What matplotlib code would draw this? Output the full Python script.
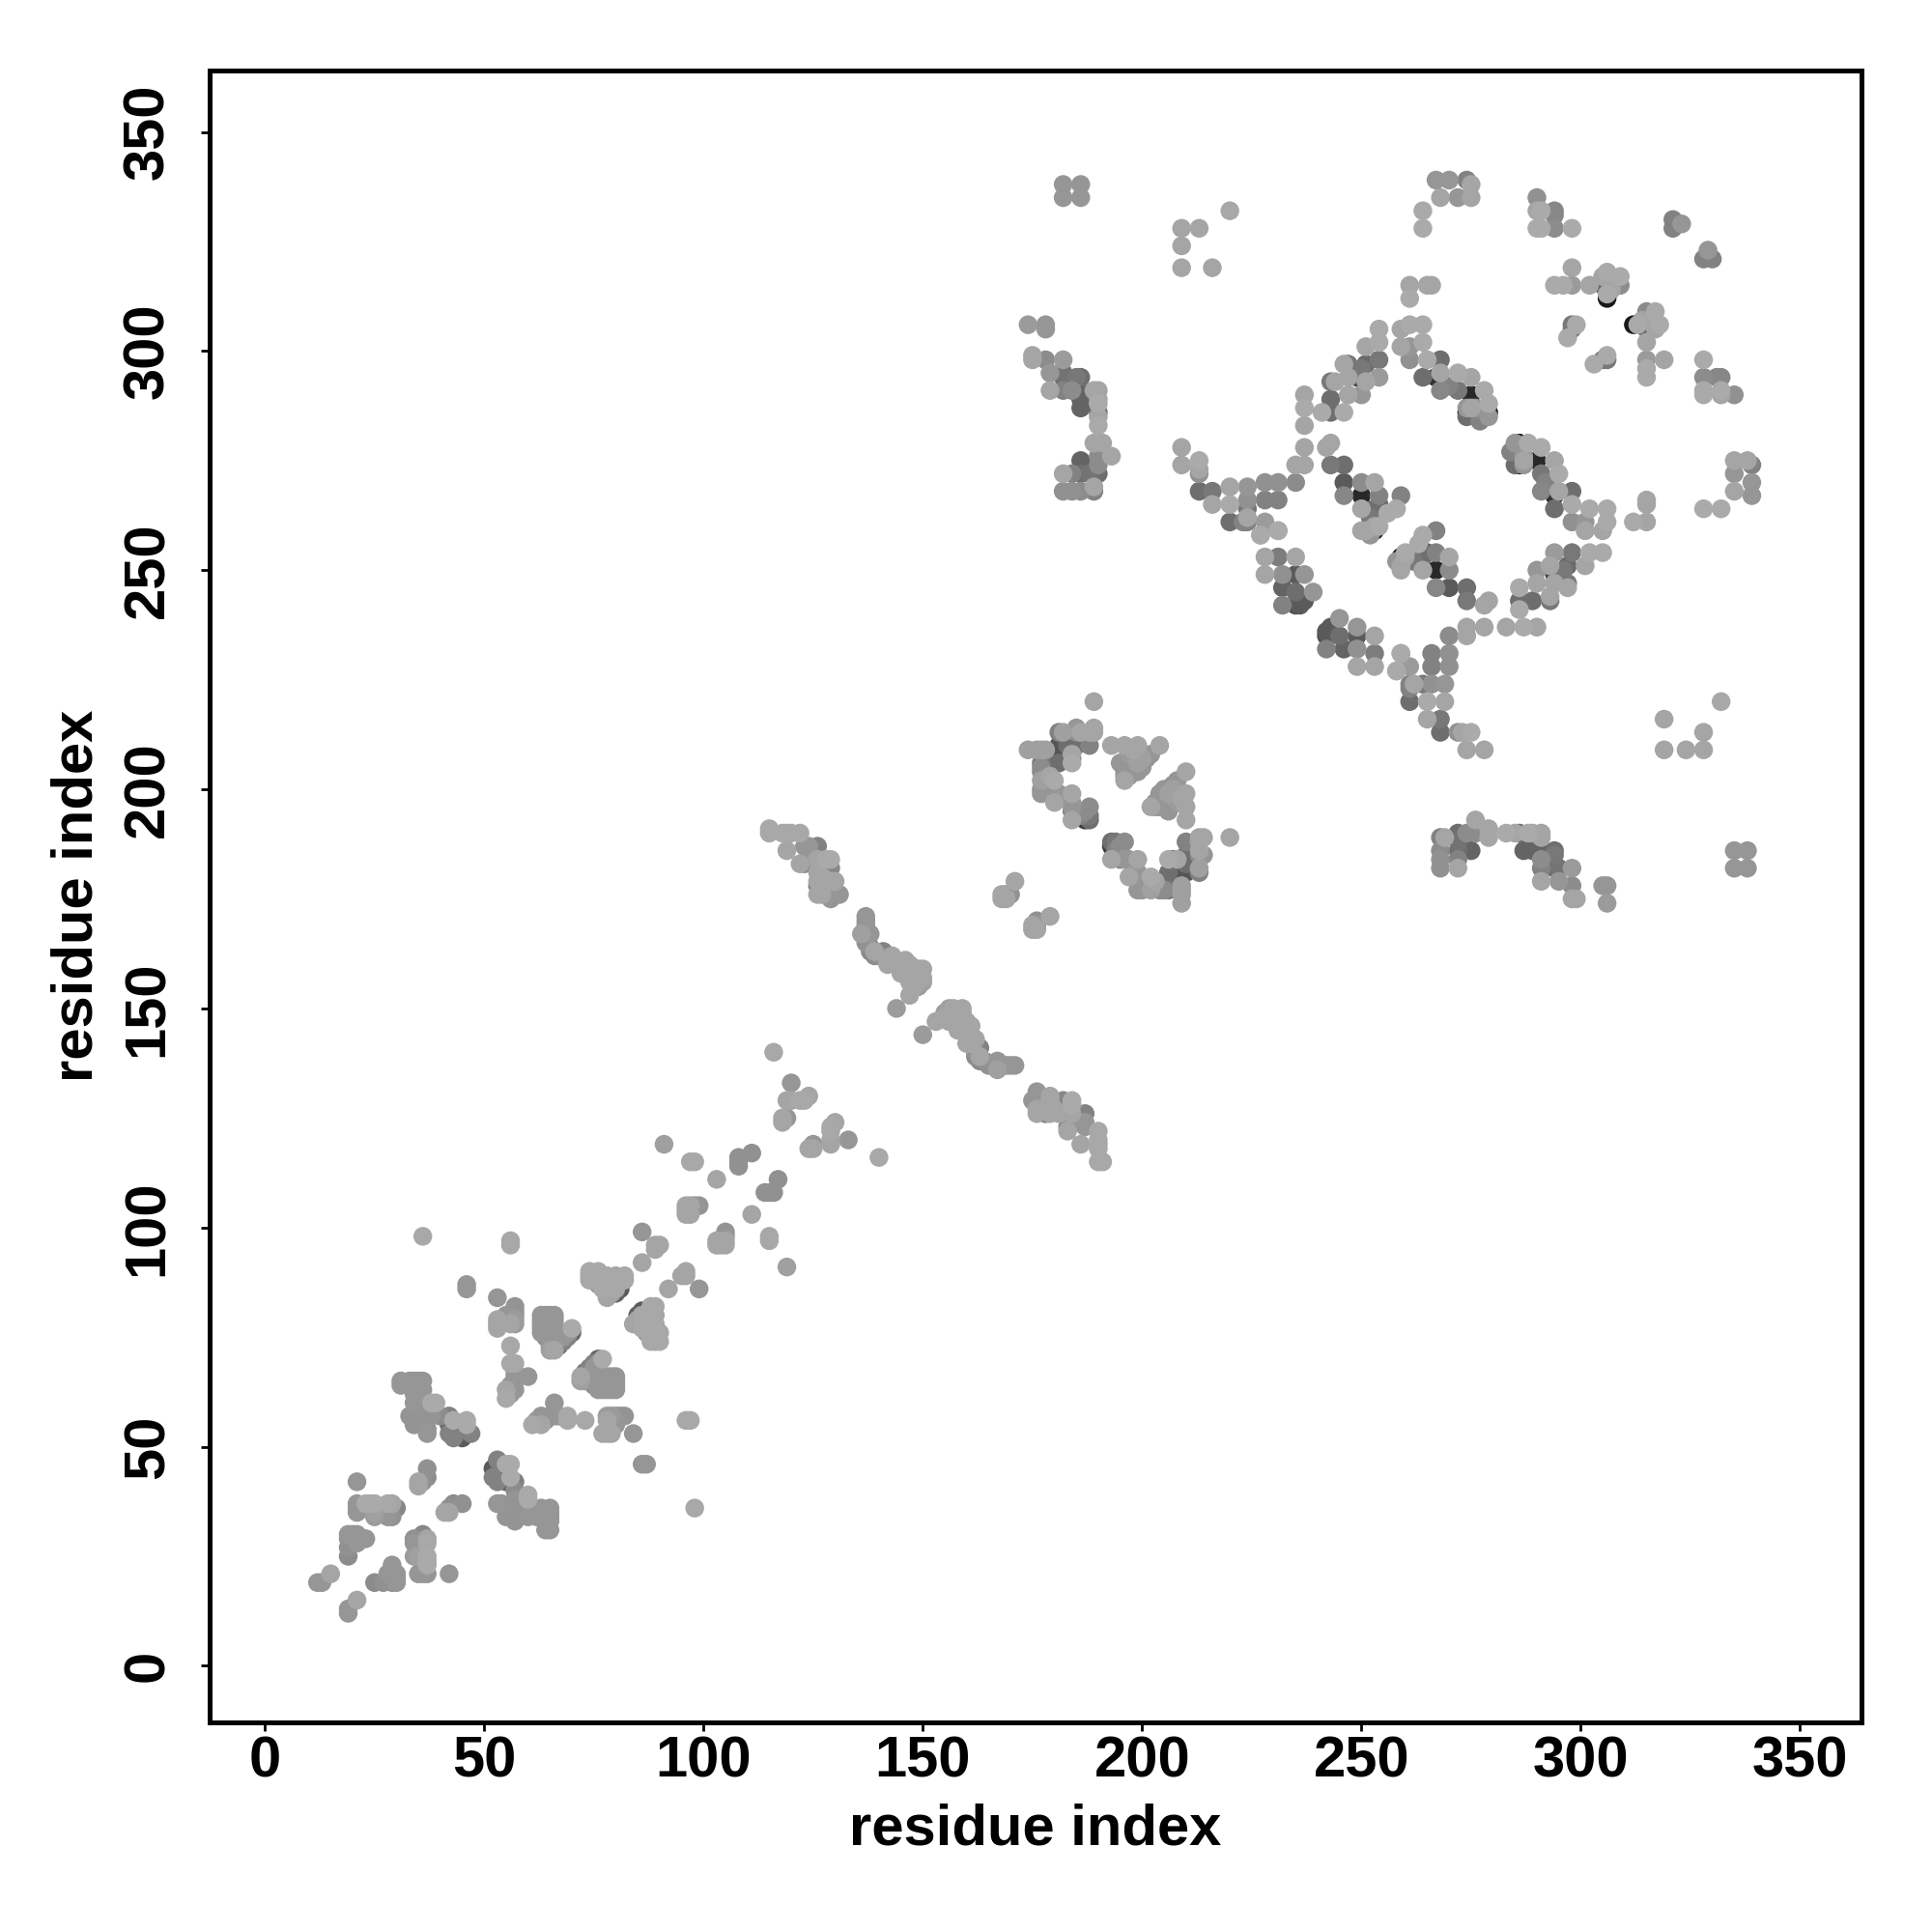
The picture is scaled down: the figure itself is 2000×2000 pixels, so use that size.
import numpy as np
import matplotlib
matplotlib.use("Agg")
import matplotlib.pyplot as plt

plt.rcParams['font.family'] = ['Liberation Sans', 'DejaVu Sans']

# contacts (residue i, residue j, grey level), i < j, the map is symmetric
start_a = [(12,19,150),(13,19,150),(15,21,165),(19,25,140),(19,27,145),(19,29,145),(19,30,150),(20,30,148),
           (21,30,150),(21,28,150),(23,29,150),(21,35,150),(21,36,150),(21,37,150),(22,36,148),(23,37,170),
           (24,37,170),(25,37,170),(25,35,160),(25,34,155),(27,36,150),(28,37,168),(29,37,165),(29,34,145),
           (30,36,135),(28,34,150),(21,42,150),(37,45,145),(37,43,140),(36,42,145),(35,42,165),(35,41,165)]
start_b = [(31,64,150),(31,65,150),(33,65,150),(34,65,150),(35,65,150),(36,65,150),(33,64,150),(36,63,150),
           (34,62,150),(34,60,150),(35,61,150),(39,60,170),(38,60,170),(33,57,148),(34,57,148),(36,57,148),
           (38,57,148),(34,55,148),(36,55,148),(37,54,148),(37,53,150),(40,57,140),(42,57,130),(42,55,100),
           (42,53,130),(43,56,170),(44,53,100),(45,53,90),(46,56,170),(46,55,170),(47,53,130),(45,52,90),
           (43,52,130)]
start_c = [(53,84,150),(53,79,165),(53,78,165),(53,77,165),(55,80,150),(56,78,165),(57,82,148),(57,81,148),
           (57,80,148),(57,79,155),(57,78,155),(56,80,150),(56,73,168),(56,69,168),(57,69,168),(60,66,150),
           (57,67,150),(57,66,148),(57,65,148),(56,64,148),(55,63,165),(55,61,168),(56,62,150),(57,63,150),
           (56,97,168),(56,96,168),(46,87,150),(46,86,150),(36,98,168)]
start_d = [(63,80,150),(64,80,150),(65,80,150),(66,80,150),(63,79,150),(64,79,150),(65,79,150),(66,79,150),
           (63,78,150),(64,78,150),(65,78,150),(66,78,150),(63,77,150),(64,77,150),(65,77,150),(66,77,150),
           (63,76,150),(64,76,150),(65,76,150),(66,76,150),(66,75,130),(65,75,140),(64,75,140),(67,74,125),
           (68,74,130),(66,73,120),(66,72,165),(67,73,110),(68,75,150),(69,75,130),(70,76,100),(70,77,170),
           (69,76,150),(65,73,150),(67,75,150),(65,72,160)]
start_e = [(74,90,168),(76,90,168),(74,89,168),(74,88,168),(75,88,168),(78,89,168),(80,89,165),(82,89,168),
           (77,86,168),(79,86,165),(76,87,150),(77,87,150),(80,85,100),(80,86,168),(80,87,168),(78,84,165),
           (79,85,165),(78,85,165),(82,88,168),(81,86,90)]
start_f = [(86,99,150),(89,96,165),(90,96,165),(89,95,165),(86,92,165),(91,119,160),(97,115,168),(98,115,168),
           (96,105,165),(96,104,165),(96,103,165),(97,105,165),(97,103,165),(99,105,148),(98,105,150),
           (103,111,165),(108,116,145),(108,115,145),(108,114,145),(111,117,145),(116,140,168),(120,133,150),
           (119,129,165),(120,129,165),(122,129,168),(123,129,168),(124,130,165),(119,125,150),(118,125,165),
           (118,124,165)]
band_a = [(115,191,168),(115,190,168),(118,190,168),(119,190,165),(120,190,168),(122,190,168),(119,186,165),
          (123,187,150),(124,187,150),(126,187,130),(122,183,165),(123,183,140),(124,185,140),(126,184,165),
          (125,184,150),(129,184,170),(128,184,170),(129,182,135),(127,182,120),(126,181,165),(126,179,165),
          (127,180,165),(126,178,120),(129,179,165),(130,179,165),(126,176,165),(129,175,150),(130,176,150),
          (131,176,150),(128,176,150),(127,176,165)]
band_b = [(137,171,150),(137,170,150),(137,169,150),(137,168,150),(136,167,160),(138,167,150),(137,165,145),
          (138,164,130),(138,163,140),(139,162,140),(139,163,165),(141,163,130),(140,162,145),(142,161,165),
          (143,162,165),(142,160,165),(144,161,165),(146,161,165),(145,160,165),(147,160,165),(145,158,165),
          (149,159,165),(150,159,165),(148,157,165),(150,157,165),(150,156,160),(147,156,165),(149,155,155),
          (148,155,165),(147,153,165),(144,150,155)]
small_a = [(168,176,165),(168,175,165),(169,175,165),(170,176,145),(169,176,150),(171,179,165)]
ring_a = [(189,220,165),(181,213,130),(182,213,160),(185,214,150),(186,213,165),(185,213,140),(188,213,165),
          (189,214,165),(189,213,165),(174,209,160),(176,209,160),(177,209,160),(178,209,160),(181,210,85),
          (181,209,85),(183,210,110),(184,210,110),(185,210,110),(188,210,130),(184,208,165),(186,211,100),
          (177,206,120),(181,206,110),(179,206,110),(184,206,170),(184,207,110),(177,205,140),(177,204,140),
          (177,202,160),(180,202,170),(179,203,165),(177,200,150),(177,199,150),(181,199,150),(179,199,150),
          (180,197,165),(181,198,150),(184,199,165),(184,197,150),(184,196,150),(184,195,130),(184,193,165),
          (188,196,140),(187,195,140),(188,194,120),(187,193,60),(188,193,110),(186,194,130)]
ring_b = [(193,210,165),(196,210,165),(199,210,165),(204,210,165),(195,206,150),(196,206,150),(197,205,150),
          (198,204,150),(199,204,150),(196,203,150),(196,202,165),(198,206,150),(199,206,160),(200,205,150),
          (202,208,150),(201,207,150),(200,207,160),(198,209,165),(197,208,155),(196,204,145),(197,203,150)]
far_a = [(182,338,150),(186,338,150),(182,335,150),(186,335,150),(220,332,168),(209,328,165),(213,328,165),
         (209,324,165),(209,319,165),(216,319,165)]
far_b = [(174,306,155),(178,306,150),(178,305,150),(175,299,165),(175,298,165),(178,298,140),(182,298,155),
         (179,295,150),(182,295,115),(182,294,110),(186,294,110),(185,294,120),(179,291,165),(182,291,130),
         (184,291,140),(186,291,100),(186,289,100),(186,287,100),(189,291,165),(190,291,165),(190,289,165),
         (190,288,170),(190,286,110),(190,285,165),(190,283,170),(189,279,165),(191,279,165),(193,276,165),
         (186,275,100),(190,276,140),(190,274,140),(190,272,110),(186,272,110),(188,272,115),(182,272,165),
         (184,272,130),(182,268,145),(184,268,145),(186,268,140),(189,269,165),(189,268,130)]
left_a = [(209,278,165),(209,274,165),(213,275,170),(213,273,165),(213,272,145),(213,268,110),(216,268,120),
          (216,265,165),(220,269,165),(220,261,110),(220,265,170),(224,269,150),(228,270,145),(231,270,145),
          (235,270,140),(224,266,145),(228,266,130),(231,266,130),(224,261,130),(223,261,130),(228,261,155),
          (227,258,170),(231,259,170),(224,264,120),(224,262,165)]
left_b = [(228,253,165),(231,253,125),(235,253,165),(228,249,165),(232,249,145),(237,249,150),(232,246,100),
          (239,245,150),(235,249,90),(232,242,130),(235,242,80),(237,243,90),(235,245,110),(236,242,90)]
top_a = [(237,290,165),(237,287,170),(237,283,165),(241,286,170),(243,293,120),(244,293,165),(243,289,110),
         (243,286,110),(246,286,170),(247,297,120),(247,294,165),(246,297,165),(247,290,165),(251,301,165),
         (254,305,170),(254,302,170),(254,298,120),(251,297,105),(254,294,155),(250,290,150),(251,293,165),
         (249,294,70),(250,296,120)]
inner_a = [(237,278,165),(235,274,165),(237,274,165),(243,279,165),(242,278,165),(243,274,120),(246,274,110),
           (246,270,90),(250,270,140),(253,270,165),(246,267,135),(250,267,40),(254,267,130),(259,267,130),
           (250,264,165),(253,264,110),(258,264,170),(256,263,170),(254,260,170),(250,259,165),(253,259,30),
           (251,259,165),(252,258,150),(253,260,165),(254,265,100),(252,262,120),(227,258,165),(231,259,165)]
top_b = [(261,312,170),(261,306,170),(264,306,170),(259,305,165),(259,301,165),(261,301,150),(264,302,170),
         (261,298,145),(264,294,110),(265,298,170),(268,298,110),(267,294,50),(268,291,135),(272,295,170),
         (275,294,165),(272,291,120),(275,290,40),(278,291,170),(279,288,170),(279,286,25),(279,285,150),
         (277,284,130),(274,286,25),(274,285,110),(274,287,150),(275,287,165),(276,287,150),(270,292,130),
         (268,295,165)]
corner_a = [(267,339,150),(270,339,150),(274,339,130),(275,338,165),(268,335,165),(272,335,150),(275,335,165),
            (264,332,170),(264,328,170),(261,315,165),(265,315,165),(266,315,165)]
corner_b = [(290,335,145),(290,332,165),(291,332,170),(294,332,135),(294,331,135),(290,328,170),(291,328,170),
            (294,328,140),(298,328,170),(298,319,165),(294,315,170),(296,315,170),(298,315,155),(302,315,165),
            (306,318,170),(309,317,170),(309,315,140),(305,315,100),(305,317,165),(306,312,25),(306,313,170),
            (307,314,165),(321,330,130),(321,328,130),(323,329,150),(299,306,170),(297,303,170),(298,306,120),
            (298,305,120)]

groups = [start_a, start_b, start_c, start_d, start_e, start_f, band_a, band_b, small_a, ring_a, ring_b,
          far_a, far_b, left_a, left_b, top_a, inner_a, top_b, corner_a, corner_b]
tick_vals = [0, 50, 100, 150, 200, 250, 300, 350]

arr = np.array([c for g in groups for c in g], dtype=float)
x = np.concatenate([arr[:, 0], arr[:, 1]])
y = np.concatenate([arr[:, 1], arr[:, 0]])
grey = np.concatenate([arr[:, 2], arr[:, 2]]) / 255.0

# darker ones first so that light dots sit on top
order = np.argsort(grey, kind='stable')

fig = plt.figure(figsize=(10, 10), dpi=200)
ax = fig.add_axes([217/2000, 1 - 1783/2000, (1927-217)/2000, (1783-73)/2000])
ax.scatter(x[order], y[order], s=49, c=np.repeat(grey[order][:, None], 3, axis=1), linewidths=0)

ax.set_xlim(-12.6, 364)
ax.set_ylim(-12.9, 364)
ax.set_xticks(tick_vals)
ax.set_yticks(tick_vals)
ax.tick_params(length=3.4, width=1.0, labelsize=21.5)
ax.tick_params(axis='x', pad=1.5)
ax.tick_params(axis='y', pad=9.5)
for lab in ax.get_xticklabels():
    lab.set_fontweight('bold')
for lab in ax.get_yticklabels():
    lab.set_fontweight('bold')
    lab.set_rotation(90)
    lab.set_va('center')
for sp in ax.spines.values():
    sp.set_linewidth(1.8)

fig.text(1072/2000, 1 - 1894/2000, 'residue index', ha='center', va='center', fontsize=21.5, fontweight='bold')
fig.text(80/2000, 1 - 927/2000, 'residue index', ha='center', va='center', rotation=90, fontsize=21.5, fontweight='bold')

fig.savefig('out.png', dpi=200)
